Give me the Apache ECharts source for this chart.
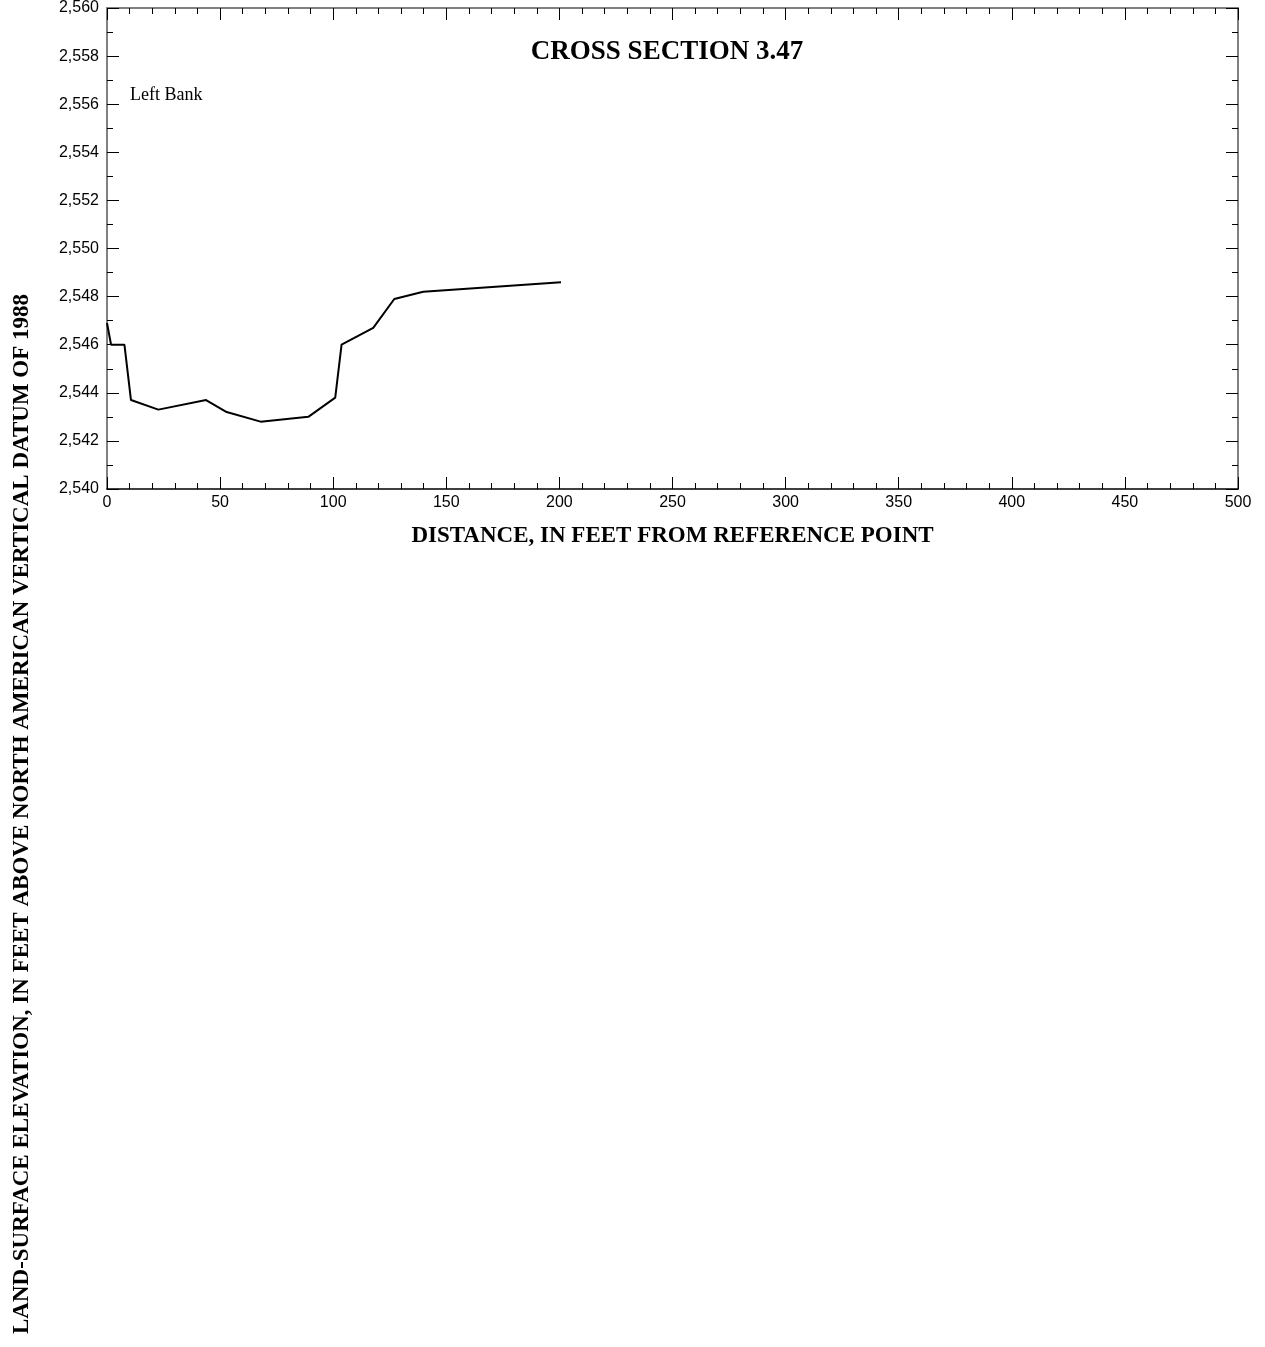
<!DOCTYPE html>
<html><head><meta charset="utf-8">
<script src="https://cdn.jsdelivr.net/npm/echarts@6/dist/echarts.min.js"></script>
<style>html,body{margin:0;padding:0;background:#fff}#c{width:1265px;height:1347px}</style>
</head><body><div id="c"></div>
<script>
const distance = [0, 1.8, 7.7, 10.6, 22.7, 43.8, 52.9, 67.9, 89.0, 100.9, 103.7, 117.7, 127.0, 139.8, 200.7];
const elevation = [2546.9, 2546.0, 2546.0, 2543.7, 2543.3, 2543.7, 2543.2, 2542.8, 2543.0, 2543.8, 2546.0, 2546.7, 2547.9, 2548.2, 2548.6];
const titleText = 'CROSS SECTION 3.47';
const bankLabel = 'Left Bank';
const xName = 'DISTANCE, IN FEET FROM REFERENCE POINT';
const yName = 'LAND-SURFACE ELEVATION, IN FEET ABOVE NORTH AMERICAN VERTICAL DATUM OF 1988';

const chart = echarts.init(document.getElementById('c'));
const gray = '#808080';
const fmtY = v => v.toLocaleString('en-US');
const data = distance.map((d, i) => [d, elevation[i]]);
chart.setOption({
  animation: false,
  title: {text: titleText, left: 662, top: 34, textAlign: 'center',
    textStyle: {fontFamily: 'Liberation Serif', fontWeight: 'bold', fontSize: 27, color: '#000'}},
  grid: {left: 107, right: 27, top: 8, bottom: 858},
  xAxis: [
    {type: 'value', min: 0, max: 500, interval: 50, position: 'bottom',
      axisLine: {onZero: false, lineStyle: {color: '#000', width: 1.5}},
      axisTick: {inside: true, length: 12, lineStyle: {color: '#000'}},
      minorTick: {show: true, splitNumber: 5, length: 6, lineStyle: {color: '#000'}},
      axisLabel: {fontFamily: 'Liberation Sans', fontSize: 16, color: '#000', margin: 6},
      splitLine: {show: false},
      name: xName, nameLocation: 'middle', nameGap: 36,
      nameTextStyle: {fontFamily: 'Liberation Serif', fontWeight: 'bold', fontSize: 23, color: '#000'}},
    {type: 'value', min: 0, max: 500, interval: 50, position: 'top',
      axisLine: {onZero: false, lineStyle: {color: gray, width: 2}},
      axisTick: {inside: true, length: 12, lineStyle: {color: '#000'}},
      minorTick: {show: true, splitNumber: 5, length: 6, lineStyle: {color: '#000'}},
      axisLabel: {show: false}, splitLine: {show: false}}
  ],
  yAxis: [
    {type: 'value', min: 2540, max: 2560, interval: 2, position: 'left',
      axisLine: {show: true, onZero: false, lineStyle: {color: gray, width: 2}},
      axisTick: {show: true, inside: true, length: 12, lineStyle: {color: '#000'}},
      minorTick: {show: true, splitNumber: 2, length: 6, lineStyle: {color: '#000'}},
      axisLabel: {fontFamily: 'Liberation Sans', fontSize: 16, color: '#000', margin: 8, formatter: fmtY},
      splitLine: {show: false}},
    {type: 'value', min: 2540, max: 2560, interval: 2, position: 'right',
      axisLine: {show: true, onZero: false, lineStyle: {color: gray, width: 2}},
      axisTick: {show: true, inside: true, length: 12, lineStyle: {color: '#000'}},
      minorTick: {show: true, splitNumber: 2, length: 6, lineStyle: {color: '#000'}},
      axisLabel: {show: false}, splitLine: {show: false}}
  ],
  graphic: [
    {type: 'text', left: 130, top: 86, style: {text: bankLabel, font: '18px "Liberation Serif"', fill: '#000'}},
    {type: 'text', x: 22, y: 814, rotation: Math.PI / 2, style: {text: yName,
      font: 'bold 23px "Liberation Serif"', fill: '#000', textAlign: 'center', textVerticalAlign: 'middle'}}
  ],
  series: [{type: 'line', data: data, xAxisIndex: 0, yAxisIndex: 0, symbol: 'none',
    lineStyle: {color: '#000', width: 2}}]
});
</script></body></html>
